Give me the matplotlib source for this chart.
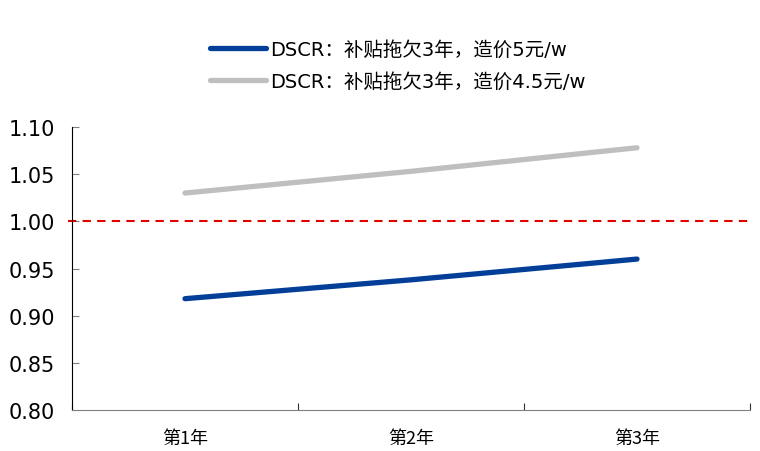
import matplotlib
matplotlib.use("Agg")
import matplotlib.pyplot as plt
from matplotlib.ticker import FixedLocator, NullFormatter, FixedFormatter

plt.rcParams['font.family'] = ['DejaVu Sans', 'Noto Sans CJK SC']

categories = ["第1年", "第2年", "第3年"]
dscr_5yuan = [0.918, 0.938, 0.960]
dscr_45yuan = [1.030, 1.053, 1.078]
label_5yuan = "DSCR：补贴拖欠3年，造价5元/w"
label_45yuan = "DSCR：补贴拖欠3年，造价4.5元/w"
threshold = 1.0
y_ticks = [0.80, 0.85, 0.90, 0.95, 1.00, 1.05, 1.10]

fig = plt.figure(figsize=(7.6, 4.52), dpi=100)
ax = fig.add_axes([72 / 760, 1 - 411 / 452, (750 - 72) / 760, (411 - 128) / 452])

x = list(range(len(categories)))
l1, = ax.plot(x, dscr_5yuan, color="#033E98", lw=3.8, solid_capstyle="round",
              label=label_5yuan, zorder=3)
l2, = ax.plot(x, dscr_45yuan, color="#BFBFBF", lw=3.8, solid_capstyle="round",
              label=label_45yuan, zorder=3)
ax.plot([-0.006, 1.0], [threshold, threshold], transform=ax.get_yaxis_transform(),
        color="#E00000", lw=1.5, ls=(0, (4, 3)), zorder=2, clip_on=False)

ax.set_xlim(-0.5, len(categories) - 0.5)
ax.set_ylim(y_ticks[0], y_ticks[-1])
ax.set_yticks(y_ticks)
ax.set_yticklabels([f"{v:.2f}" for v in y_ticks])
for lbl in ax.get_yticklabels():
    lbl.set_fontsize(15)
ax.tick_params(axis="y", direction="in", length=5, color="#808080", pad=12)

# category labels centered, tick marks on category boundaries
ax.xaxis.set_major_locator(FixedLocator([i - 0.5 for i in range(len(categories) + 1)]))
ax.xaxis.set_major_formatter(NullFormatter())
ax.xaxis.set_minor_locator(FixedLocator(x))
ax.xaxis.set_minor_formatter(FixedFormatter(categories))
ax.tick_params(axis="x", which="major", direction="in", length=5, color="#333333")
ax.tick_params(axis="x", which="minor", length=0, pad=14)
for lbl in ax.get_xticklabels(minor=True):
    lbl.set_family(["Noto Sans CJK SC", "DejaVu Sans"])
    lbl.set_fontsize(13)

for s in ("top", "right"):
    ax.spines[s].set_visible(False)
ax.spines["left"].set_color("#000000")
ax.spines["bottom"].set_color("#808080")

leg = fig.legend(handles=[l1, l2], loc="upper left",
                 bbox_to_anchor=(192 / 760, 1 - 23 / 452), frameon=False,
                 handlelength=2.9, handletextpad=0.2, labelspacing=0.7,
                 prop={"family": ["DejaVu Sans", "Noto Sans CJK SC"], "size": 14})

fig.savefig("out.png", dpi=100)
